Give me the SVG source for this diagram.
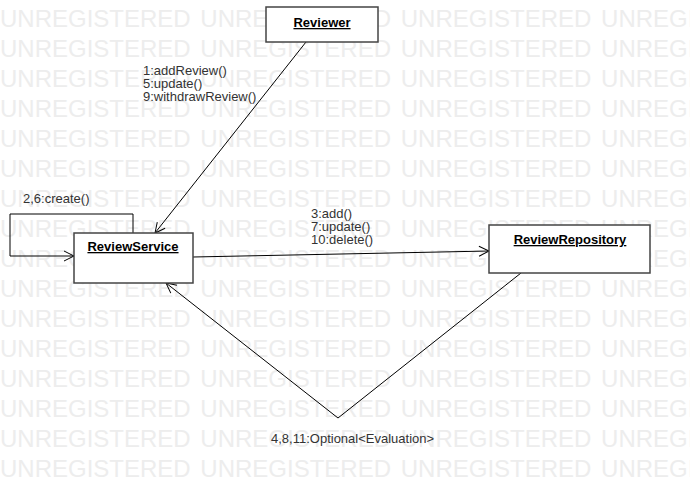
<svg xmlns="http://www.w3.org/2000/svg" width="690" height="490" viewBox="0 0 690 490">
<style>
.wm{font-family:"Liberation Sans",Arial,sans-serif;font-size:24px;fill:#ededed;word-spacing:3px}
.box{fill:#fff;stroke:#444;stroke-width:1.5}
.name{font-family:"Liberation Sans",Arial,sans-serif;font-size:13px;font-weight:bold;fill:#000;text-anchor:middle;text-decoration:underline}
.lbl{font-family:"Liberation Sans",Arial,sans-serif;font-size:13px;fill:#333}
.ln{fill:none;stroke:#000;stroke-width:1}
</style>
<defs>
<marker id="arr" markerUnits="userSpaceOnUse" markerWidth="14" markerHeight="14" refX="11" refY="7" orient="auto">
<path d="M1,2 L11,7 L1,12" fill="none" stroke="#000" stroke-width="1"/>
</marker>
</defs>
<rect width="690" height="490" fill="#fff"/>
<g id="watermark">
<text class="wm" x="0" y="27">UNREGISTERED UNREGISTERED UNREGISTERED UNREGISTERED</text>
<text class="wm" x="0" y="57">UNREGISTERED UNREGISTERED UNREGISTERED UNREGISTERED</text>
<text class="wm" x="0" y="87">UNREGISTERED UNREGISTERED UNREGISTERED UNREGISTERED</text>
<text class="wm" x="0" y="117">UNREGISTERED UNREGISTERED UNREGISTERED UNREGISTERED</text>
<text class="wm" x="0" y="147">UNREGISTERED UNREGISTERED UNREGISTERED UNREGISTERED</text>
<text class="wm" x="0" y="177">UNREGISTERED UNREGISTERED UNREGISTERED UNREGISTERED</text>
<text class="wm" x="0" y="207">UNREGISTERED UNREGISTERED UNREGISTERED UNREGISTERED</text>
<text class="wm" x="0" y="237">UNREGISTERED UNREGISTERED UNREGISTERED UNREGISTERED</text>
<text class="wm" x="0" y="267">UNREGISTERED UNREGISTERED UNREGISTERED UNREGISTERED</text>
<text class="wm" x="0" y="297">UNREGISTERED UNREGISTERED UNREGISTERED UNREGISTERED</text>
<text class="wm" x="0" y="327">UNREGISTERED UNREGISTERED UNREGISTERED UNREGISTERED</text>
<text class="wm" x="0" y="357">UNREGISTERED UNREGISTERED UNREGISTERED UNREGISTERED</text>
<text class="wm" x="0" y="387">UNREGISTERED UNREGISTERED UNREGISTERED UNREGISTERED</text>
<text class="wm" x="0" y="417">UNREGISTERED UNREGISTERED UNREGISTERED UNREGISTERED</text>
<text class="wm" x="0" y="447">UNREGISTERED UNREGISTERED UNREGISTERED UNREGISTERED</text>
<text class="wm" x="0" y="477">UNREGISTERED UNREGISTERED UNREGISTERED UNREGISTERED</text>
</g>
<g id="connectors">
<line class="ln" x1="306" y1="42" x2="155" y2="233" marker-end="url(#arr)"/>
<polyline class="ln" points="133,233 133,214 10,214 10,256 74,256" marker-end="url(#arr)"/>
<line class="ln" x1="193" y1="257" x2="489" y2="251" marker-end="url(#arr)"/>
<polyline class="ln" points="521,273 338,418 166,283" marker-end="url(#arr)"/>
<text class="lbl" x="143" y="75">1:addReview()</text>
<text class="lbl" x="143" y="88">5:update()</text>
<text class="lbl" x="143" y="101">9:withdrawReview()</text>
<text class="lbl" x="23" y="203">2,6:create()</text>
<text class="lbl" x="311" y="218">3:add()</text>
<text class="lbl" x="311" y="231">7:update()</text>
<text class="lbl" x="311" y="244">10:delete()</text>
<text class="lbl" x="271" y="443">4,8,11:Optional&lt;Evaluation&gt;</text>
</g>
<g id="Reviewer">
<rect class="box" x="266" y="7" width="112" height="35"/>
<text class="name" x="322" y="27">Reviewer</text>
</g>
<g id="ReviewService">
<rect class="box" x="74" y="233" width="119" height="50"/>
<text class="name" x="133" y="251">ReviewService</text>
</g>
<g id="ReviewRepository">
<rect class="box" x="489" y="225" width="161" height="48"/>
<text class="name" x="570" y="244">ReviewRepository</text>
</g>
</svg>
